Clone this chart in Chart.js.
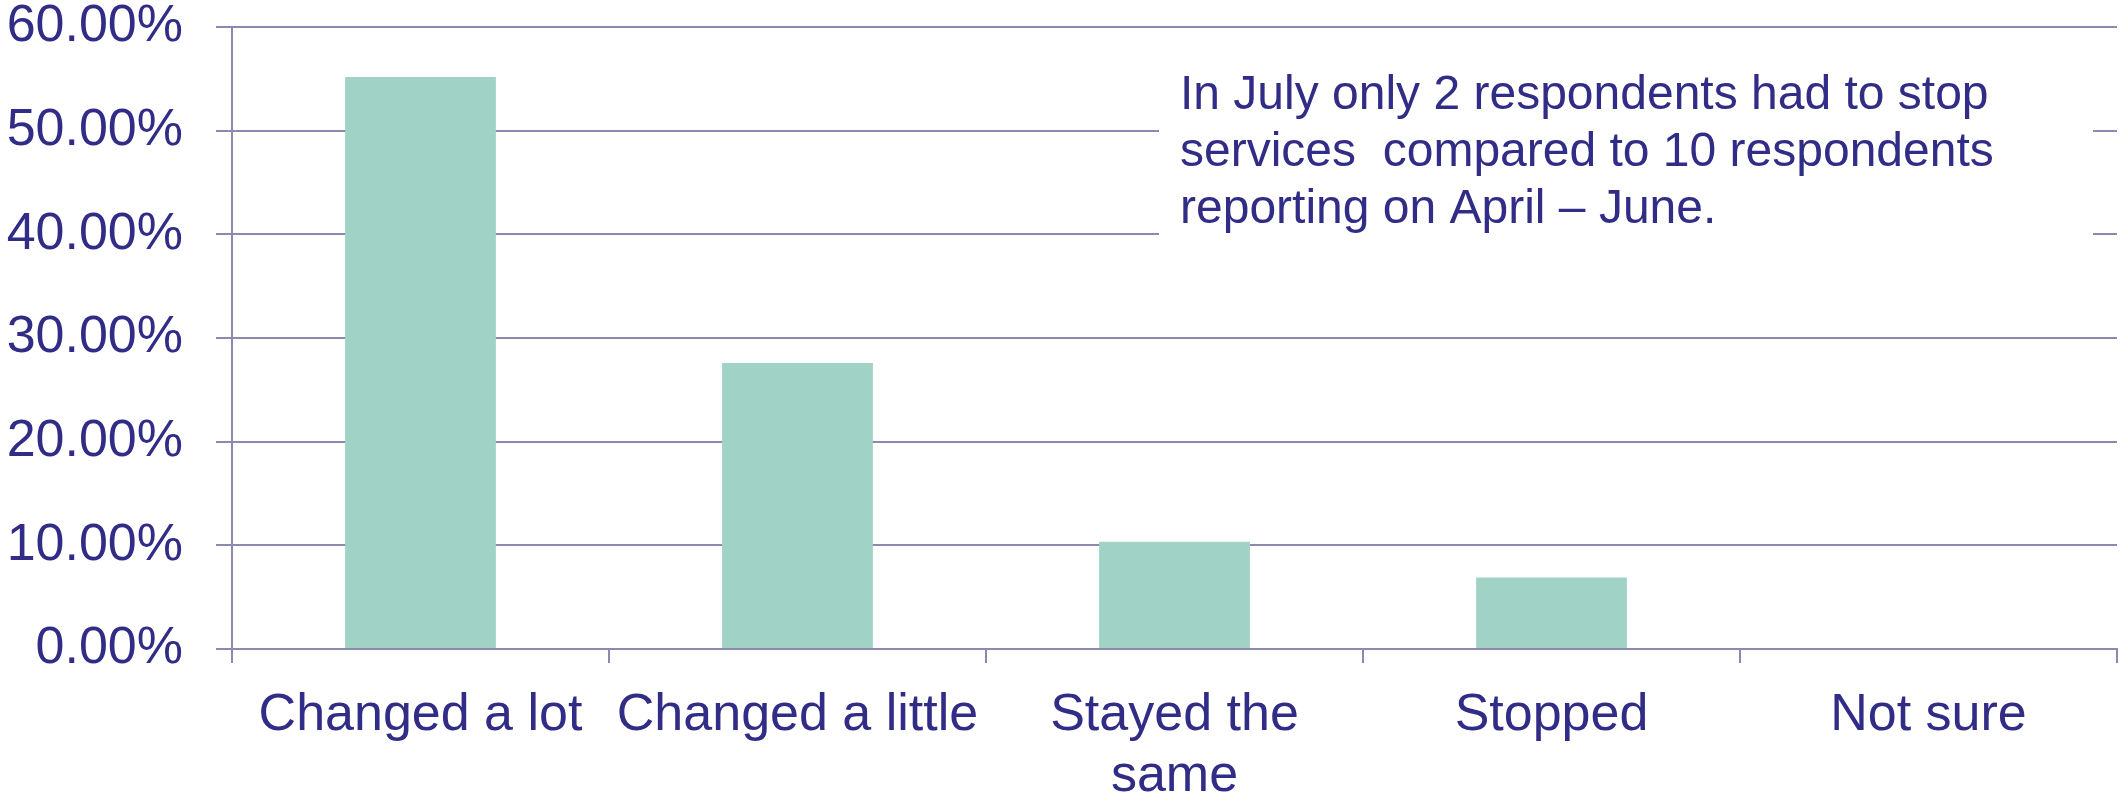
<!DOCTYPE html>
<html>
<head>
<meta charset="utf-8">
<script src="https://cdn.jsdelivr.net/npm/chart.js@4/dist/chart.umd.min.js"></script>
<style>
  html, body { margin: 0; padding: 0; background: #fff; }
  #wrap { width: 2120px; height: 796px; }
</style>
</head>
<body>
<div id="wrap"><canvas id="grafico" width="2120" height="796"></canvas></div>
<script>
// datos
let categorias = ['Changed a lot', 'Changed a little', ['Stayed the', 'same'], 'Stopped', 'Not sure'];
let porcentajes = [55.17, 27.59, 10.34, 6.90, 0];
let ejeMax = 60;
let ejePaso = 10;
let nota = [
  'In July only 2 respondents had to stop',
  'services  compared to 10 respondents',
  'reporting on April \u2013 June.'
];

let colorTexto = '#312C86';
let colorLinea = '#8C89AE';
let fuente = '"Liberation Sans", Arial, sans-serif';

// caja blanca con el texto, tapa las lineas de la grilla
let notaPlugin = {
  id: 'nota',
  afterDatasetsDraw(chart) {
    let ctx = chart.ctx;
    ctx.save();
    ctx.fillStyle = '#fff';
    ctx.fillRect(1159, 45, 934, 215);
    ctx.fillStyle = colorTexto;
    ctx.font = '48px ' + fuente;
    ctx.textBaseline = 'middle';
    ctx.textAlign = 'left';
    for (var i = 0; i < nota.length; i++) {
      ctx.fillText(nota[i], 1180, 96 + i * 57);
    }
    ctx.restore();
  }
};

let ctx = document.getElementById('grafico').getContext('2d');
let barChart = new Chart(ctx, {
  type: 'bar',
  data: {
    labels: categorias,
    datasets: [{
      data: porcentajes,
      backgroundColor: '#A0D3C6',
      borderWidth: 0,
      categoryPercentage: 0.4,
      barPercentage: 1
    }]
  },
  options: {
    responsive: false,
    animation: false,
    layout: { padding: { top: 0, right: 3, left: 0, bottom: 0 } },
    plugins: {
      legend: { display: false },
      tooltip: { enabled: false }
    },
    scales: {
      x: {
        grid: {
          display: true,
          drawOnChartArea: false,
          drawTicks: true,
          tickLength: 14,
          color: colorLinea,
          lineWidth: 2
        },
        border: { display: true, color: colorLinea, width: 2 },
        ticks: {
          autoSkip: false,
          maxRotation: 0,
          minRotation: 0,
          padding: 22,
          color: colorTexto,
          font: { family: fuente, size: 52, lineHeight: 1.17 }
        },
        afterFit: function(s) { s.height = 147; }
      },
      y: {
        min: 0,
        max: ejeMax,
        grid: {
          color: colorLinea,
          lineWidth: 2,
          tickLength: 16
        },
        border: { display: true, color: colorLinea, width: 2 },
        ticks: {
          stepSize: ejePaso,
          padding: 33,
          color: colorTexto,
          font: { family: fuente, size: 52, lineHeight: 1.0 },
          callback: function(v) { return v.toFixed(2) + '%'; }
        },
        afterFit: function(s) {
          s.width = 232;
          s.paddingTop = 27;
          s.paddingBottom = 0;
        }
      }
    }
  },
  plugins: [notaPlugin]
});
</script>
</body>
</html>
